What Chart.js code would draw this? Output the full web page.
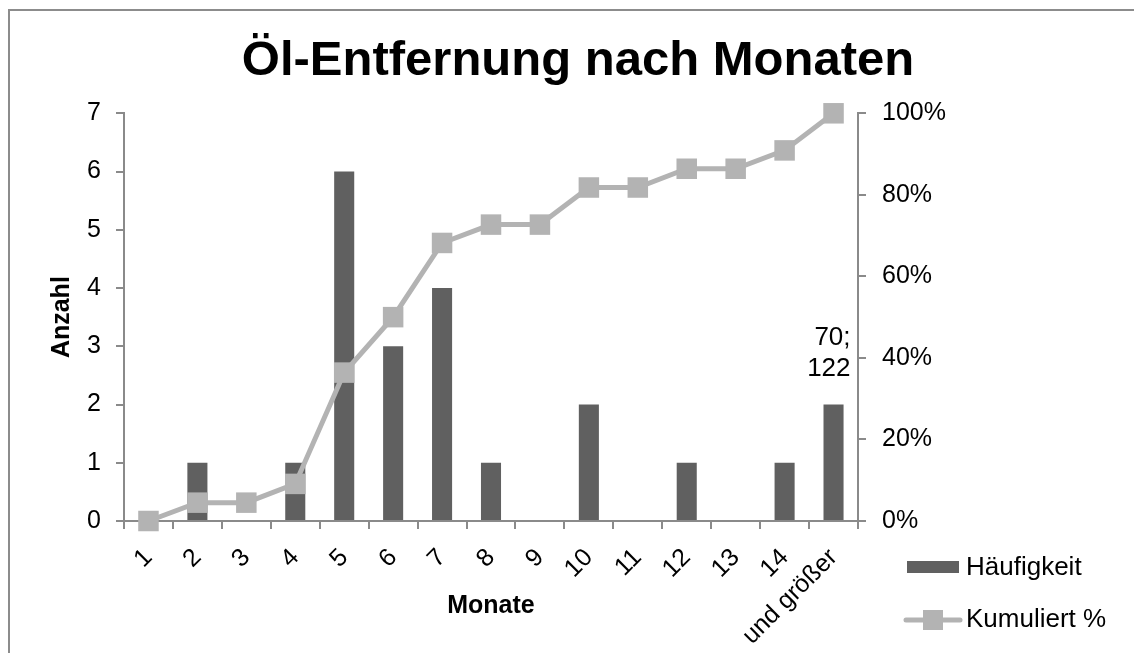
<!DOCTYPE html>
<html>
<head>
<meta charset="utf-8">
<style>
  body { margin: 0; background: #fff; }
  canvas { display: block; }
</style>
</head>
<body>
<canvas id="myChart" width="1134" height="653" style="width:1134px;height:653px"></canvas>

<script src="https://cdn.jsdelivr.net/npm/chart.js"></script>
<script>
// data
let months = ['1', '2', '3', '4', '5', '6', '7', '8', '9', '10', '11', '12', '13', '14', 'und größer'];
let counts = [0, 1, 0, 1, 6, 3, 4, 1, 0, 2, 0, 1, 0, 1, 2];
let cumulative = [0, 4.5, 4.5, 9.1, 36.4, 50, 68.2, 72.7, 72.7, 81.8, 81.8, 86.4, 86.4, 90.9, 100];
let countTicks = [0, 1, 2, 3, 4, 5, 6, 7];
let percentTicks = [0, 20, 40, 60, 80, 100];
let noteLines = ['70;', '122'];

let font = '"Liberation Sans", Arial, sans-serif';
let axisGray = '#8a8a8a';
let barGray = '#606060';
let lineGray = '#b3b3b3';

// frame round the whole chart
let framePlugin = {
  id: 'frame',
  beforeDraw(chart) {
    let c = chart.ctx;
    c.save();
    c.fillStyle = '#fff';
    c.fillRect(0, 0, chart.width, chart.height);
    c.strokeStyle = '#8c8c8c';
    c.lineWidth = 2;
    c.strokeRect(9, 10, 1200, 700);
    c.restore();
  }
};

// the "70; 122" text over the last bar + the legend in the lower right corner
let extrasPlugin = {
  id: 'extras',
  afterDraw(chart) {
    let c = chart.ctx;
    c.save();
    let bars = chart.getDatasetMeta(1).data;
    let last = bars[bars.length - 1];
    c.font = '26px ' + font;
    c.fillStyle = '#000';
    c.textAlign = 'right';
    c.textBaseline = 'middle';
    c.fillText(noteLines[0], last.x + 17, last.y - 67);
    c.fillText(noteLines[1], last.x + 17, last.y - 36);

    // legend
    let ds = chart.data.datasets;
    c.textAlign = 'left';
    c.font = '26px ' + font;
    c.fillStyle = barGray;
    c.fillRect(907, 561, 52, 12);
    c.fillStyle = '#000';
    c.fillText(ds[1].label, 966, 568);

    c.strokeStyle = lineGray;
    c.lineWidth = 5;
    c.lineCap = 'round';
    c.beginPath();
    c.moveTo(906, 620);
    c.lineTo(960, 620);
    c.stroke();
    c.fillStyle = lineGray;
    c.fillRect(923, 610, 20, 20);
    c.fillStyle = '#000';
    c.fillText(ds[0].label, 966, 620);
    c.restore();
  }
};

let ctx = document.getElementById('myChart').getContext('2d');
let chart = new Chart(ctx, {
  data: {
    labels: months,
    datasets: [
      {
        type: 'line',
        label: 'Kumuliert %',
        data: cumulative,
        yAxisID: 'y1',
        order: 0,
        clip: false,
        borderColor: lineGray,
        borderWidth: 5,
        tension: 0,
        pointStyle: 'rect',
        pointRadius: 14.5,
        pointBackgroundColor: lineGray,
        pointBorderWidth: 0
      },
      {
        type: 'bar',
        label: 'Häufigkeit',
        data: counts,
        yAxisID: 'y',
        order: 1,
        backgroundColor: barGray,
        categoryPercentage: 1,
        barPercentage: 0.41
      }
    ]
  },
  options: {
    responsive: false,
    animation: false,
    devicePixelRatio: 1,
    layout: { padding: { left: 22, right: 0, top: 0, bottom: 0 } },
    plugins: {
      legend: { display: false },
      tooltip: { enabled: false },
      title: {
        display: true,
        text: 'Öl-Entfernung nach Monaten',
        color: '#000',
        font: { family: font, size: 49, weight: 'bold' },
        padding: { top: 32, bottom: 22.5 }
      }
    },
    scales: {
      x: {
        grid: { offset: true, drawOnChartArea: false, color: axisGray, lineWidth: 2, tickLength: 8 },
        border: { color: axisGray, width: 2 },
        ticks: { color: '#000', font: { family: font, size: 25 }, minRotation: 45, maxRotation: 45, padding: 14 },
        title: {
          display: true, text: 'Monate', color: '#000',
          font: { family: font, size: 25, weight: 'bold' },
          padding: { top: 0, bottom: 32 }
        },
        afterFit(scale) { scale.height = 132; }
      },
      y: {
        position: 'left',
        min: 0, max: 7,
        afterBuildTicks(scale) { scale.ticks = countTicks.map(v => ({ value: v })); },
        grid: { drawOnChartArea: false, color: axisGray, lineWidth: 2, tickLength: 8 },
        border: { color: axisGray, width: 2 },
        ticks: { color: '#000', font: { family: font, size: 25 }, padding: 15 },
        title: {
          display: true, text: 'Anzahl', color: '#000',
          font: { family: font, size: 25, weight: 'bold' },
          padding: { top: 25, bottom: 0 }
        },
        afterFit(scale) { scale.width = 102; }
      },
      y1: {
        position: 'right',
        min: 0, max: 100,
        afterBuildTicks(scale) { scale.ticks = percentTicks.map(v => ({ value: v })); },
        grid: { drawOnChartArea: false, color: axisGray, lineWidth: 2, tickLength: 8 },
        border: { color: axisGray, width: 2 },
        ticks: { color: '#000', font: { family: font, size: 25 }, padding: 16, callback: v => v + '%' },
        afterFit(scale) { scale.width = 276; }
      }
    }
  },
  plugins: [framePlugin, extrasPlugin]
});
</script>
</body>
</html>
